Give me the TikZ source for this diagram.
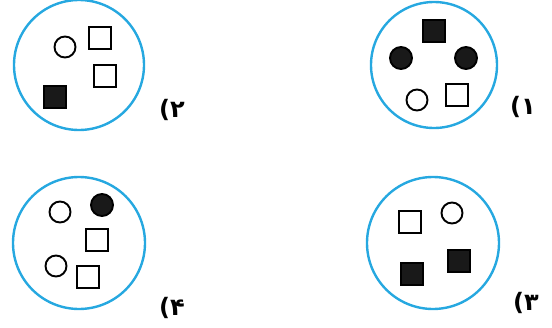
\documentclass[tikz,border=0pt]{standalone}
\usepackage{fontspec}
\newfontfamily\arabicfont[Script=Arabic]{DejaVu Sans}
\definecolor{ringblue}{RGB}{38,168,224}
\tikzset{
  ring/.style={draw=ringblue,line width=2.4pt},
  opensq/.style={draw,line width=1.9pt,minimum size=21.5pt,inner sep=0pt},
  fullsq/.style={opensq,fill=black!90},
  opendot/.style={circle,draw,line width=1.9pt,minimum size=21pt,inner sep=0pt},
  fulldot/.style={opendot,fill=black!90,minimum size=22pt},
  numlabel/.style={font=\arabicfont\bfseries\fontsize{24}{26}\selectfont,inner sep=0pt}
}
\begin{document}
\begin{tikzpicture}[x=1pt,y=-1pt]
\useasboundingbox (0,0) rectangle (552,327);
% (1) top right
\draw[ring] (434,65) circle (63);
\node[fullsq] (a1) at (434,31) {};
\node[fulldot] (a2) at (401,58) {};
\node[fulldot] (a3) at (466,58) {};
\node[opendot] (a4) at (417,100) {};
\node[opensq] (a5) at (457,95) {};
\node[numlabel] (l1) at (523,107) {۱)};
% (2) top left
\draw[ring] (79,65) circle (65);
\node[opendot] (b1) at (65,47) {};
\node[opensq] (b2) at (100,38) {};
\node[opensq] (b3) at (105,76) {};
\node[fullsq] (b4) at (55,97) {};
\node[numlabel] (l2) at (172,110) {۲)};
% (3) bottom right
\draw[ring] (433,243) circle (66);
\node[opensq] (c1) at (410,222) {};
\node[opendot] (c2) at (452,213) {};
\node[fullsq] (c3) at (459,261) {};
\node[fullsq] (c4) at (412,274) {};
\node[numlabel] (l3) at (526,303) {۳)};
% (4) bottom left
\draw[ring] (79,243) circle (66);
\node[opendot] (d1) at (60,212) {};
\node[fulldot] (d2) at (102,205) {};
\node[opensq] (d3) at (97,240) {};
\node[opendot] (d4) at (56,266) {};
\node[opensq] (d5) at (88,277) {};
\node[numlabel] (l4) at (172,308) {۴)};
\end{tikzpicture}
\end{document}
